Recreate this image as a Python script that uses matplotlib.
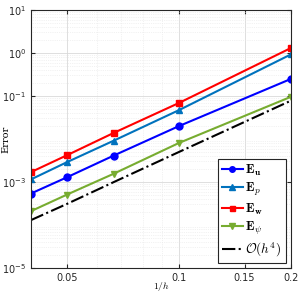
import numpy as np
import matplotlib
matplotlib.use('Agg')
import matplotlib.pyplot as plt
from matplotlib.font_manager import FontProperties

plt.rcParams['mathtext.fontset'] = 'dejavusans'

# mesh sizes
h = [1/25, 1/20, 1/15, 1/10, 1/5]

# errors
err_u = [5.4e-4, 1.29e-3, 4.1e-3, 2.0e-2, 0.25]
err_p = [1.15e-3, 2.9e-3, 9.1e-3, 4.7e-2, 0.93]
err_w = [1.7e-3, 4.2e-3, 1.38e-2, 6.9e-2, 1.31]
err_psi = [2.1e-4, 5.1e-4, 1.55e-3, 8.1e-3, 0.096]
ref_h4 = [1.3e-4, 3.1e-4, 9.9e-4, 5.0e-3, 7.8e-2]

labels = [r'$\mathbf{E_u}$', r'$\mathbf{E}_p$', r'$\mathbf{E_w}$', r'$\mathbf{E}_\psi$', r'$\mathcal{O}(h^4)$']
yticks = [1e-5, 1e-3, 1e-1, 1e0, 1e1]

fig = plt.figure(figsize=(2.99, 2.94), dpi=100)
ax = fig.add_axes([31/299, 26/294, 260/299, 258/294])

ax.loglog(h, err_u, '-o', color=(0, 0, 1), lw=1.5, ms=5, label=labels[0])
ax.loglog(h, err_p, '-^', color=(0, 0.447, 0.741), lw=1.5, ms=5, label=labels[1])
ax.loglog(h, err_w, '-s', color=(1, 0, 0), lw=1.5, ms=4.5, label=labels[2])
ax.loglog(h, err_psi, '-v', color=(0.466, 0.674, 0.188), lw=1.5, ms=5, label=labels[3])
ax.loglog(h, ref_h4, '-.', color='k', lw=1.5, label=labels[4])

ax.set_xlim(0.04, 0.2)
ax.set_ylim(1e-5, 1e1)
ax.set_xticks([0.05, 0.1, 0.15, 0.2])
ax.set_xticklabels(['0.05', '0.1', '0.15', '0.2'])
ax.set_yticks(yticks)
ax.minorticks_on()
ax.xaxis.set_minor_formatter(matplotlib.ticker.NullFormatter())
ax.yaxis.set_minor_formatter(matplotlib.ticker.NullFormatter())

ax.grid(True, which='major', color='#d9d9d9', lw=0.6)
ax.grid(True, which='minor', color='#e6e6e6', lw=0.5, ls=':')
ax.tick_params(which='both', direction='in', top=True, right=True, labelsize=7, colors='#262626')
ax.tick_params(which='minor', length=0)
ax.tick_params(which='major', length=3)
for s in ax.spines.values():
    s.set_color('#262626')
    s.set_linewidth(0.8)

ax.set_xlabel(r'$1/h$', fontsize=7, math_fontfamily='cm')
ax.set_ylabel('Error', fontsize=7, family='serif')
ax.xaxis.set_label_coords(0.5, -0.045)
ax.yaxis.set_label_coords(-0.08, 0.5)

leg = ax.legend(loc='lower right', prop=FontProperties(size=9.5, math_fontfamily='cm'),
                handlelength=1.6, handletextpad=0.2,
                borderpad=0.3, labelspacing=0.25, fancybox=False, framealpha=1,
                edgecolor='#262626', borderaxespad=0.4, markerscale=0.8)
leg.get_frame().set_linewidth(0.8)

fig.savefig('out.png', dpi=100)
